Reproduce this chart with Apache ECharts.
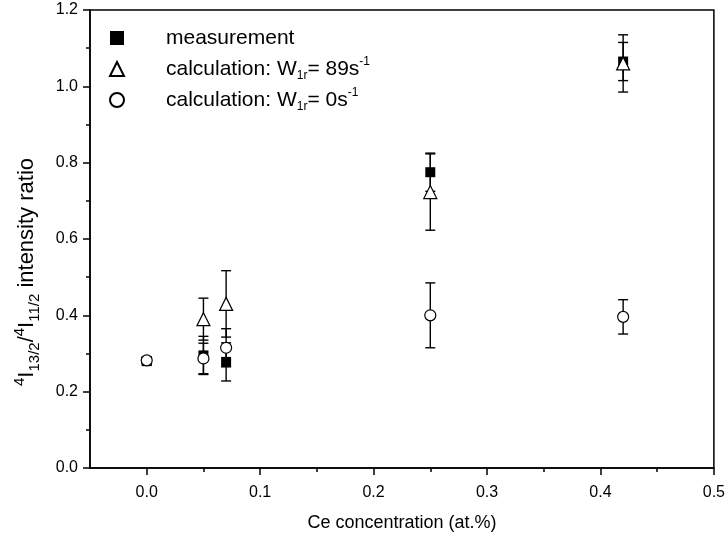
<!DOCTYPE html>
<html>
<head>
<meta charset="utf-8">
<script src="https://cdn.jsdelivr.net/npm/echarts@6/dist/echarts.min.js"></script>
<style>html,body{margin:0;padding:0;background:#fff}#c{width:728px;height:545px}</style>
</head>
<body>
<div id="c"></div>
<script>
// ---- data ----
var measX = [0.0, 0.05, 0.07, 0.25, 0.42];
var measY = [0.280, 0.295, 0.278, 0.775, 1.065];
var measErr = [0.010, 0.050, 0.050, 0.050, 0.050];

var calc89X = [0.05, 0.07, 0.25, 0.42];
var calc89Y = [0.390, 0.430, 0.723, 1.060];
var calc89Err = [0.055, 0.087, 0.100, 0.075];

var calc0X = [0.0, 0.05, 0.07, 0.25, 0.42];
var calc0Y = [0.282, 0.287, 0.315, 0.400, 0.396];
var calc0Err = [0.008, 0.040, 0.050, 0.085, 0.045];

var xTicks = [0.0, 0.1, 0.2, 0.3, 0.4, 0.5];
var xMinorTicks = [0.05, 0.15, 0.25, 0.35, 0.45];

var FONT = 'Liberation Sans, Arial, sans-serif';

function pts(xs, ys) { return xs.map(function (x, i) { return [x, ys[i]]; }); }
function errData(xs, ys, es) { return xs.map(function (x, i) { return [x, ys[i] - es[i], ys[i] + es[i]]; }); }

function errSeries(name, xs, ys, es, z) {
  return {
    type: 'custom', name: name, z: z, silent: true,
    data: errData(xs, ys, es),
    renderItem: function (params, api) {
      var lo = api.coord([api.value(0), api.value(1)]);
      var hi = api.coord([api.value(0), api.value(2)]);
      var w = 5;
      var st = { stroke: '#000', lineWidth: 1.4 };
      return {
        type: 'group', children: [
          { type: 'line', shape: { x1: lo[0], y1: lo[1], x2: hi[0], y2: hi[1] }, style: st },
          { type: 'line', shape: { x1: lo[0] - w, y1: lo[1], x2: lo[0] + w, y2: lo[1] }, style: st },
          { type: 'line', shape: { x1: hi[0] - w, y1: hi[1], x2: hi[0] + w, y2: hi[1] }, style: st }
        ]
      };
    }
  };
}

var chart = echarts.init(document.getElementById('c'), null, { renderer: 'canvas' });
var option = {
  animation: false,
  backgroundColor: '#fff',
  grid: { left: 90, right: 9, top: 10, bottom: 77, show: true, borderColor: '#000', borderWidth: 1.5 },
  xAxis: [{
    type: 'value', min: -0.05, max: 0.5,
    splitLine: { show: false },
    axisLine: { show: true, onZero: false, lineStyle: { color: '#000', width: 1.5 } },
    axisTick: { show: true, inside: false, length: 7, customValues: xTicks, lineStyle: { color: '#000', width: 1.5 } },
    axisLabel: { customValues: xTicks, margin: 17, color: '#000', fontFamily: FONT, fontSize: 16,
      formatter: function (v) { return v.toFixed(1); } },
    name: 'Ce concentration (at.%)', nameLocation: 'middle', nameGap: 46,
    nameTextStyle: { color: '#000', fontFamily: FONT, fontSize: 18 }
  }, {
    type: 'value', min: -0.05, max: 0.5, position: 'bottom',
    splitLine: { show: false },
    axisLine: { show: false, onZero: false },
    axisTick: { show: true, length: 4, customValues: xMinorTicks, lineStyle: { color: '#000', width: 1.5 } },
    axisLabel: { show: false }
  }],
  yAxis: {
    type: 'value', min: 0, max: 1.2, interval: 0.2,
    splitLine: { show: false },
    axisLine: { show: true, onZero: false, lineStyle: { color: '#000', width: 1.5 } },
    axisTick: { show: true, length: 7, lineStyle: { color: '#000', width: 1.5 } },
    minorTick: { show: true, splitNumber: 2, length: 4, lineStyle: { color: '#000', width: 1.5 } },
    axisLabel: { margin: 12, color: '#000', fontFamily: FONT, fontSize: 16,
      formatter: function (v) { return v.toFixed(1); } },
    name: '{sup|4}I{sub|13/2}/{sup|4}I{sub|11/2} intensity ratio',
    nameLocation: 'middle', nameGap: 48, nameRotate: 90,
    nameTextStyle: {
      color: '#000', fontFamily: FONT, fontSize: 22, lineHeight: 30, padding: [0, 66, 0, 0],
      rich: {
        sup: { fontSize: 15, fontFamily: FONT, color: '#000', verticalAlign: 'top', lineHeight: 30 },
        sub: { fontSize: 15, fontFamily: FONT, color: '#000', verticalAlign: 'bottom', lineHeight: 30 }
      }
    }
  },
  legend: {
    orient: 'vertical', left: 104, top: 20, itemGap: 5,
    itemWidth: 14, itemHeight: 14,
    data: ['measurement', 'calc89', 'calc0'],
    formatter: function (name) {
      if (name === 'calc89') return 'calculation: W{sub|1r}= 89s{sup|-1}';
      if (name === 'calc0') return 'calculation: W{sub|1r}= 0s{sup|-1}';
      return name;
    },
    textStyle: {
      color: '#000', fontFamily: FONT, fontSize: 21, lineHeight: 26, padding: [0, 0, 0, 37],
      rich: {
        sup: { fontSize: 12, fontFamily: FONT, color: '#000', verticalAlign: 'top', lineHeight: 26 },
        sub: { fontSize: 12, fontFamily: FONT, color: '#000', verticalAlign: 'bottom', lineHeight: 26 }
      }
    }
  },
  series: [
    errSeries('measErr', measX, measY, measErr, 2),
    { type: 'scatter', name: 'measurement', z: 3, symbol: 'rect', symbolSize: 10,
      itemStyle: { color: '#000', borderColor: '#000', borderWidth: 0, opacity: 1 },
      data: pts(measX, measY) },
    errSeries('calc89Err', calc89X, calc89Y, calc89Err, 4),
    { type: 'scatter', name: 'calc89', z: 5, symbol: 'triangle', symbolSize: 13,
      itemStyle: { color: '#fff', borderColor: '#000', borderWidth: 1.2, opacity: 1 },
      data: pts(calc89X, calc89Y) },
    errSeries('calc0Err', calc0X, calc0Y, calc0Err, 6),
    { type: 'scatter', name: 'calc0', z: 7, symbol: 'circle', symbolSize: 11,
      itemStyle: { color: '#fff', borderColor: '#000', borderWidth: 1.2, opacity: 1 },
      data: pts(calc0X, calc0Y) }
  ]
};
chart.setOption(option);
</script>
</body>
</html>
